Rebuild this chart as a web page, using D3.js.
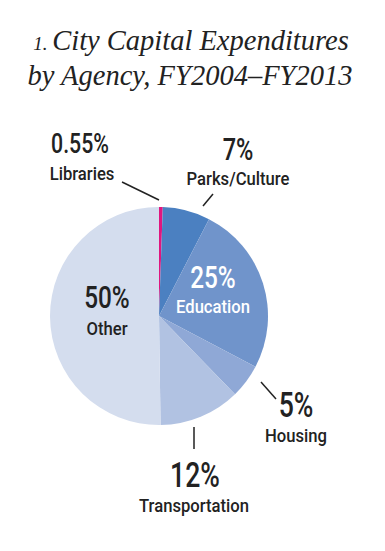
<!DOCTYPE html>
<html>
<head>
<meta charset="utf-8">
<script src="https://cdn.jsdelivr.net/npm/d3@7"></script>
<style>
  body { margin: 0; background: #fff; }
  svg { display: block; }
</style>
</head>
<body>
<svg width="385" height="551"></svg>
<script>
// data, clockwise from 12 o'clock
var agencies = ["Libraries", "Parks/Culture", "Education", "Housing", "Transportation", "Other"];
var shares   = [0.55, 7, 25, 5, 12, 50];
var shareLabels = ["0.55%", "7%", "25%", "5%", "12%", "50%"];
var colors = ["#e0167f", "#4b80c1", "#7094cb", "#8fa8d6", "#b1c2e2", "#d4ddee"];

var svg = d3.select("svg"),
    cx = 159, cy = 316, radius = 109;

// title
var title = svg.append("text")
    .attr("text-anchor", "middle")
    .style("font-family", "'Liberation Serif', serif")
    .style("font-style", "italic")
    .style("font-size", "28.5px")
    .style("fill", "#222");
var l1 = title.append("tspan").attr("x", 191).attr("y", 50);
l1.append("tspan").style("font-size", "19px").text("1. ");
l1.append("tspan").text("City Capital Expenditures");
title.append("tspan").attr("x", 190).attr("y", 85).text("by Agency, FY2004\u2013FY2013");

var pie = d3.pie().sort(null).value(function(d) { return d; });
var arc = d3.arc().innerRadius(0).outerRadius(radius);

var g = svg.append("g").attr("transform", "translate(" + cx + "," + cy + ")");

g.selectAll("path.slice")
  .data(pie(shares))
  .enter().append("path")
    .attr("class", "slice")
    .attr("d", arc)
    .attr("fill", function(d, i) { return colors[i]; });

// label layout (relative to pie centre)
var layout = [
  {pct: [-79, -163], pctSize: 28, name: [-77, -136], line: [[0, -116], [-37, -134]]},
  {pct: [79, -156],  pctSize: 31, name: [79, -131],  line: [[44, -110], [54, -122]]},
  {pct: [54, -28],   pctSize: 32, name: [54, -3],    fill: "#fff"},
  {pct: [137, 101],  pctSize: 35, name: [137, 126],  line: [[102, 66], [117, 83]]},
  {pct: [36, 171],   pctSize: 35, name: [35, 196],   line: [[35, 111], [35, 133]]},
  {pct: [-52, -8],   pctSize: 32, name: [-52, 19]}
];

layout.forEach(function(L, i) {
  if (L.line) {
    g.append("line")
      .attr("x1", L.line[0][0]).attr("y1", L.line[0][1])
      .attr("x2", L.line[1][0]).attr("y2", L.line[1][1])
      .attr("stroke", "#222").attr("stroke-width", 1.5);
  }
  g.append("text")
    .attr("transform", "translate(" + L.pct[0] + "," + L.pct[1] + ") scale(0.76,1)")
    .attr("text-anchor", "middle")
    .style("font-family", "Roboto, sans-serif")
    .style("font-weight", "500")
    .style("font-size", L.pctSize + "px")
    .style("fill", L.fill || "#222")
    .text(shareLabels[i]);
  g.append("text")
    .attr("transform", "translate(" + L.name[0] + "," + L.name[1] + ") scale(0.9,1)")
    .attr("text-anchor", "middle")
    .style("font-family", "Roboto, sans-serif")
    .style("font-weight", "500")
    .style("font-size", "18.5px")
    .style("fill", L.fill || "#222")
    .text(agencies[i]);
});
</script>
</body>
</html>
